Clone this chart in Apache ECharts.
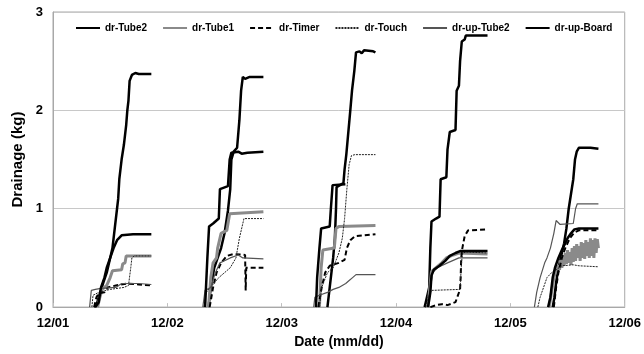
<!DOCTYPE html>
<html>
<head>
<meta charset="utf-8">
<script src="https://cdn.jsdelivr.net/npm/echarts@6/dist/echarts.min.js"></script>
<style>
  html, body { margin: 0; padding: 0; background: #fff; }
  #chart { width: 644px; height: 354px; }
</style>
</head>
<body>
<div id="chart"></div>
<script>
// x = days since 12/01 00:00, y = drainage (kg); one array per day
const dateLabels = ['12/01', '12/02', '12/03', '12/04', '12/05', '12/06'];

const tube2 = [
  [[0.36,0],[0.38,0.02],[0.40,0.1],[0.44,0.25],[0.47,0.35],[0.50,0.5],[0.52,0.6],[0.54,0.8],[0.56,1.0],[0.57,1.1],[0.58,1.3],[0.60,1.5],[0.62,1.65],[0.64,1.85],[0.65,2.0],[0.66,2.1],[0.67,2.3],[0.69,2.36],[0.72,2.38],[0.75,2.37],[0.86,2.37]],
  [[1.36,0],[1.38,0.2],[1.41,0.4],[1.44,0.5],[1.47,0.6],[1.50,0.75],[1.53,0.98],[1.55,1.2],[1.56,1.5],[1.58,1.58],[1.61,1.62],[1.63,1.9],[1.645,2.2],[1.66,2.34],[1.68,2.32],[1.72,2.34],[1.84,2.34]],
  [[2.40,0],[2.42,0.2],[2.45,0.5],[2.465,0.7],[2.475,1.0],[2.48,1.22],[2.54,1.26],[2.55,1.4],[2.565,1.55],[2.60,2.0],[2.615,2.2],[2.635,2.4],[2.65,2.59],[2.68,2.6],[2.70,2.58],[2.72,2.61],[2.80,2.6],[2.82,2.59]],
  [[3.25,0],[3.26,0.05],[3.29,0.2],[3.30,0.6],[3.31,0.87],[3.35,0.9],[3.38,0.92],[3.39,1.3],[3.44,1.32],[3.45,1.6],[3.47,1.78],[3.52,1.8],[3.53,2.2],[3.55,2.25],[3.56,2.5],[3.575,2.7],[3.60,2.72],[3.61,2.76],[3.80,2.76]],
  [[4.37,0],[4.385,0.1],[4.40,0.25],[4.42,0.4],[4.44,0.5],[4.47,0.65],[4.49,0.8],[4.51,1.0],[4.53,1.15],[4.55,1.3],[4.565,1.5],[4.58,1.58],[4.60,1.62],[4.70,1.62],[4.77,1.61]]
];

const tube1 = [
  [[0.39,0],[0.41,0.1],[0.43,0.18],[0.47,0.22],[0.50,0.3],[0.52,0.37],[0.60,0.38],[0.61,0.44],[0.63,0.45],[0.64,0.52],[0.86,0.52]],
  [[1.36,0],[1.38,0.3],[1.40,0.45],[1.43,0.5],[1.44,0.6],[1.47,0.75],[1.52,0.78],[1.545,0.95],[1.56,0.97],[1.84,0.97]],
  [[2.33,0],[2.345,0.4],[2.36,0.58],[2.46,0.6],[2.475,0.8],[2.50,0.82],[2.82,0.83]],
  [[3.28,0],[3.295,0.2],[3.31,0.36],[3.35,0.4],[3.40,0.45],[3.44,0.5],[3.50,0.53],[3.55,0.55],[3.80,0.54]],
  [[4.34,0],[4.36,0.15],[4.38,0.3],[4.40,0.38],[4.42,0.42],[4.43,0.38],[4.44,0.48],[4.45,0.4],[4.46,0.52],[4.47,0.42],[4.48,0.55],[4.49,0.44],[4.50,0.58],[4.51,0.45],[4.52,0.56],[4.53,0.43],[4.54,0.6],[4.55,0.46],[4.56,0.62],[4.57,0.47],[4.58,0.64],[4.59,0.5],[4.60,0.62],[4.61,0.47],[4.62,0.66],[4.63,0.5],[4.64,0.65],[4.65,0.49],[4.66,0.68],[4.67,0.52],[4.68,0.66],[4.69,0.5],[4.70,0.7],[4.71,0.52],[4.72,0.68],[4.73,0.5],[4.74,0.7],[4.75,0.55],[4.76,0.69],[4.77,0.6]]
];

const timer = [
  [[0.36,0],[0.38,0.1],[0.40,0.14],[0.45,0.15],[0.48,0.2],[0.55,0.22],[0.65,0.24],[0.75,0.23],[0.86,0.22]],
  [[1.37,0],[1.40,0.2],[1.43,0.35],[1.47,0.45],[1.52,0.52],[1.58,0.54],[1.68,0.53],[1.685,0.17],[1.69,0.4],[1.84,0.4]],
  [[2.32,0],[2.35,0.2],[2.38,0.35],[2.42,0.42],[2.50,0.45],[2.55,0.48],[2.57,0.6],[2.60,0.68],[2.64,0.72],[2.82,0.74]],
  [[3.30,0],[3.35,0.02],[3.40,0.03],[3.45,0.02],[3.52,0.05],[3.56,0.18],[3.565,0.3],[3.57,0.5],[3.58,0.6],[3.60,0.72],[3.63,0.78],[3.80,0.79]],
  [[4.38,0],[4.40,0.2],[4.42,0.35],[4.45,0.5],[4.48,0.6],[4.52,0.7],[4.56,0.76],[4.60,0.78],[4.77,0.78]]
];

const touch = [
  [[0.34,0],[0.35,0.12],[0.40,0.15],[0.50,0.18],[0.62,0.2],[0.66,0.22],[0.68,0.4],[0.69,0.5],[0.71,0.52],[0.86,0.52]],
  [[1.32,0],[1.34,0.15],[1.45,0.3],[1.55,0.4],[1.60,0.5],[1.63,0.7],[1.67,0.9],[1.84,0.9]],
  [[2.33,0],[2.35,0.2],[2.40,0.35],[2.45,0.4],[2.50,0.55],[2.53,0.7],[2.55,0.9],[2.57,1.2],[2.59,1.45],[2.61,1.54],[2.64,1.55],[2.82,1.55]],
  [[3.26,0],[3.28,0.1],[3.31,0.17],[3.56,0.18],[3.57,0.4],[3.58,0.55],[3.62,0.56],[3.80,0.55]],
  [[4.24,0],[4.26,0.1],[4.29,0.2],[4.32,0.3],[4.36,0.35],[4.40,0.38],[4.45,0.42],[4.55,0.43],[4.60,0.42],[4.77,0.41]]
];

const upTube2 = [
  [[0.32,0],[0.335,0.17],[0.37,0.18],[0.42,0.19],[0.55,0.2],[0.60,0.24],[0.75,0.24],[0.86,0.23]],
  [[1.31,0],[1.33,0.17],[1.38,0.2],[1.42,0.35],[1.46,0.45],[1.55,0.5],[1.62,0.53],[1.66,0.5],[1.84,0.49]],
  [[2.28,0],[2.29,0.1],[2.33,0.12],[2.40,0.15],[2.45,0.18],[2.50,0.2],[2.53,0.22],[2.56,0.24],[2.59,0.27],[2.62,0.3],[2.65,0.33],[2.82,0.33]],
  [[3.27,0],[3.29,0.1],[3.32,0.35],[3.36,0.4],[3.45,0.45],[3.55,0.5],[3.80,0.5]],
  [[4.21,0],[4.23,0.15],[4.26,0.3],[4.30,0.45],[4.32,0.5],[4.35,0.6],[4.38,0.75],[4.40,0.88],[4.435,0.84],[4.55,0.85],[4.57,1.0],[4.585,1.05],[4.77,1.05]]
];

const upBoard = [
  [[0.37,0],[0.40,0.05],[0.42,0.2],[0.45,0.3],[0.47,0.4],[0.50,0.5],[0.53,0.6],[0.56,0.68],[0.60,0.73],[0.70,0.74],[0.86,0.74]],
  [[1.33,0],[1.35,0.5],[1.365,0.82],[1.40,0.85],[1.45,0.9],[1.46,1.2],[1.53,1.23],[1.545,1.5],[1.56,1.57],[1.62,1.58],[1.65,1.56],[1.70,1.57],[1.84,1.58]],
  [[2.30,0],[2.31,0.3],[2.33,0.6],[2.345,0.8],[2.42,0.82],[2.43,1.0],[2.445,1.24],[2.557,1.25]],
  [[3.28,0],[3.30,0.15],[3.31,0.32],[3.33,0.38],[3.38,0.42],[3.43,0.47],[3.47,0.52],[3.52,0.55],[3.56,0.57],[3.80,0.57]],
  [[4.33,0],[4.35,0.1],[4.37,0.3],[4.39,0.4],[4.42,0.5],[4.45,0.58],[4.48,0.65],[4.50,0.7],[4.53,0.75],[4.56,0.79],[4.60,0.8],[4.77,0.8]]
];

// join the days with a gap so each day is its own line
const joinDays = (days) => {
  const out = [];
  days.forEach((d, i) => {
    if (i > 0) out.push([d[0][0], '-']);
    d.forEach(p => out.push(p));
  });
  return out;
};

const font = 'Liberation Sans, Arial, sans-serif';

const mkSeries = (name, days, color, width, type) => ({
  name: name,
  type: 'line',
  data: joinDays(days),
  showSymbol: false,
  symbol: 'none',
  connectNulls: false,
  lineStyle: { color: color, width: width, type: type || 'solid' },
  itemStyle: { color: color }
});

const chart = echarts.init(document.getElementById('chart'));
chart.setOption({
  animation: false,
  grid: {
    left: 53, right: 16, top: 12, bottom: 44,
    show: true, borderColor: '#a8a8a8', borderWidth: 1
  },
  legend: {
    left: 70, top: 18,
    itemWidth: 24, itemHeight: 8, itemGap: 15,
    itemStyle: { opacity: 0 },
    textStyle: { fontFamily: font, fontWeight: 'bold', fontSize: 10, color: '#000' },
    data: ['dr-Tube2', 'dr-Tube1', 'dr-Timer', 'dr-Touch', 'dr-up-Tube2', 'dr-up-Board']
  },
  xAxis: {
    type: 'value', min: 0, max: 5, interval: 1,
    name: 'Date (mm/dd)', nameLocation: 'middle', nameGap: 27,
    nameTextStyle: { fontFamily: font, fontWeight: 'bold', fontSize: 14, color: '#000' },
    axisLine: { lineStyle: { color: '#a8a8a8' } },
    axisTick: { inside: true, length: 4, lineStyle: { color: '#c0c0c0' } },
    splitLine: { show: false },
    axisLabel: {
      margin: 10, fontFamily: font, fontWeight: 'bold', fontSize: 13, color: '#000',
      formatter: v => dateLabels[Math.round(v)]
    }
  },
  yAxis: {
    type: 'value', min: 0, max: 3, interval: 1,
    name: 'Drainage (kg)', nameLocation: 'middle', nameGap: 27,
    nameTextStyle: { fontFamily: font, fontWeight: 'bold', fontSize: 15, color: '#000' },
    axisLine: { show: true, lineStyle: { color: '#a8a8a8' } },
    axisTick: { show: false },
    splitLine: { lineStyle: { color: '#c8c8c8' } },
    axisLabel: { margin: 10, fontFamily: font, fontWeight: 'bold', fontSize: 13, color: '#000' }
  },
  series: [
    mkSeries('dr-Tube2', tube2, '#000', 2.5),
    mkSeries('dr-Tube1', tube1, '#8a8a8a', 3),
    mkSeries('dr-Timer', timer, '#000', 2, [5, 3]),
    mkSeries('dr-Touch', touch, '#222', 1, [2, 1]),
    mkSeries('dr-up-Tube2', upTube2, '#555', 1.2),
    mkSeries('dr-up-Board', upBoard, '#000', 2.5)
  ]
});
</script>
</body>
</html>
